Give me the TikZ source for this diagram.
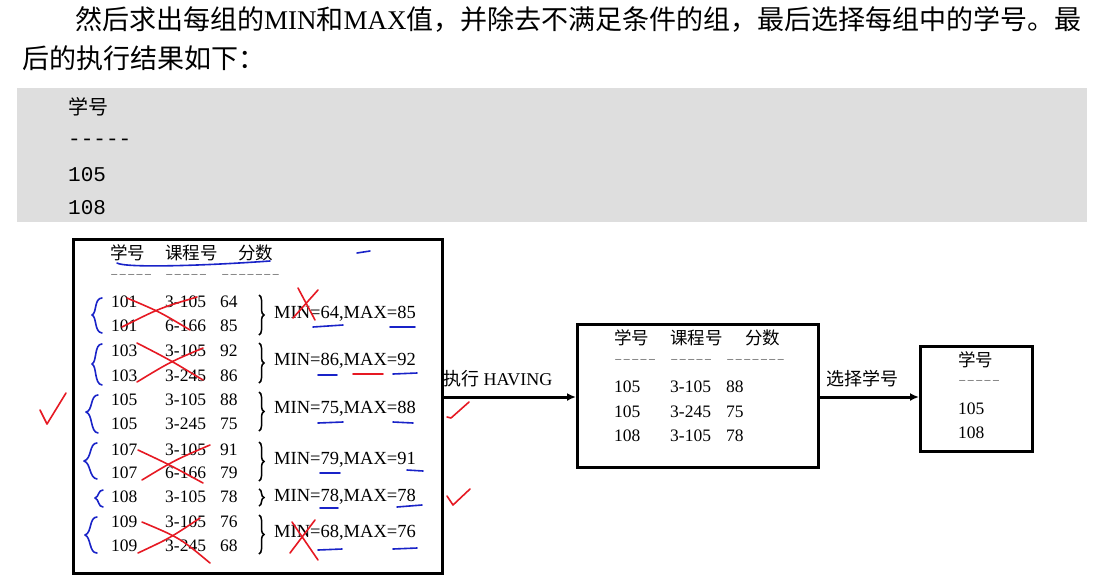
\documentclass[tikz,border=0pt]{standalone}
\usepackage{fontspec}
\setmainfont{Liberation Serif}
\newfontfamily\cjk{Noto Sans CJK SC}
\newfontfamily\monof{Liberation Mono}
\usetikzlibrary{arrows.meta,decorations.pathreplacing}
\definecolor{greybg}{RGB}{222,222,222}
\definecolor{inkblue}{RGB}{25,35,200}
\definecolor{inkred}{RGB}{230,25,35}
\tikzset{
  para/.style={anchor=west,inner sep=0pt,font=\fontsize{27}{30}\selectfont},
  code/.style={anchor=west,inner sep=0pt,font=\monof\fontsize{21}{24}\selectfont},
  cell/.style={anchor=west,inner sep=0pt,font=\fontsize{17.5}{20}\selectfont},
  hdr/.style={anchor=west,inner sep=0pt,font=\cjk\fontsize{17.5}{20}\selectfont},
  dsh/.style={anchor=west,inner sep=0pt,text=gray,font=\monof\fontsize{14}{16}\selectfont},
  mm/.style={anchor=west,inner sep=0pt,font=\fontsize{18.5}{20}\selectfont},
  panel/.style={draw,line width=2.6pt},
  flow/.style={line width=3pt,-{Latex[length=9pt,width=8pt]}},
  tbrace/.style={decorate,decoration={brace,amplitude=5pt},line width=1.5pt},
  blueink/.style={inkblue,line width=1.6pt,line cap=round,line join=round},
  redink/.style={inkred,line width=1.6pt,line cap=round,line join=round},
}
\begin{document}
\begin{tikzpicture}[x=1pt,y=-1pt]
\useasboundingbox (0,0) rectangle (1113,574);
\fill[white] (0,0) rectangle (1113,574);
% paragraph
\node[para] (p1) at (75,19) {{\cjk 然后求出每组的}MIN{\cjk 和}MAX{\cjk 值，并除去不满足条件的组，最后选择每组中的学号。最}};
\node[para] (p2) at (22,58) {{\cjk 后的执行结果如下：}};
% grey code box
\fill[greybg] (17,88) rectangle (1087,222);
\node[code,font=\cjk\fontsize{20}{24}\selectfont] (g1) at (68,107) {学号};
\node[code] (g2) at (68,142) {-----};
\node[code] (g3) at (68,175) {105};
\node[code] (g4) at (68,208) {108};

% panel 1
\node[panel,minimum width=369pt,minimum height=334pt,anchor=north west,inner sep=0pt] (b1) at (72,238) {};
\node[hdr] (h1a) at (110,253) {学号};
\node[hdr] (h1b) at (165,253) {课程号};
\node[hdr] (h1c) at (238,253) {分数};
\node[dsh] (d1a) at (110,276) {–––––};
\node[dsh] (d1b) at (165,276) {–––––};
\node[dsh] (d1c) at (221,276) {–––––––};
\foreach \y/\a/\b/\c [count=\i] in {302/101/3-105/64, 326/101/6-166/85, 351/103/3-105/92, 376/103/3-245/86, 400/105/3-105/88, 424/105/3-245/75, 450/107/3-105/91, 473/107/6-166/79, 497/108/3-105/78, 522/109/3-105/76, 546/109/3-245/68}{
  \node[cell] (r\i a) at (111,\y) {\a};
  \node[cell] (r\i b) at (165,\y) {\b};
  \node[cell] (r\i c) at (220,\y) {\c};
}
\foreach \t/\bb [count=\i] in {295/335, 343/383, 392/431, 442/481, 489/506, 515/554}{
  \draw[tbrace] (259,\t) -- (259,\bb);
}
\node[mm] (m1) at (274,314) {MIN=64,MAX=85};
\node[mm] (m2) at (274,361) {MIN=86,MAX=92};
\node[mm] (m3) at (274,409) {MIN=75,MAX=88};
\node[mm] (m4) at (274,460) {MIN=79,MAX=91};
\node[mm] (m5) at (274,497) {MIN=78,MAX=78};
\node[mm] (m6) at (274,533) {MIN=68,MAX=76};

% panel 2
\node[panel,minimum width=241pt,minimum height=143pt,anchor=north west,inner sep=0pt] (b2) at (576,323) {};
\node[hdr] (h2a) at (614,338) {学号};
\node[hdr] (h2b) at (670,338) {课程号};
\node[hdr] (h2c) at (745,338) {分数};
\node[dsh] (d2a) at (614,361) {–––––};
\node[dsh] (d2b) at (670,361) {–––––};
\node[dsh] (d2c) at (726,361) {–––––––};
\foreach \y/\a/\b/\c [count=\i] in {387/105/3-105/88, 412/105/3-245/75, 436/108/3-105/78}{
  \node[cell] (s\i a) at (614,\y) {\a};
  \node[cell] (s\i b) at (670,\y) {\b};
  \node[cell] (s\i c) at (726,\y) {\c};
}

% panel 3
\node[panel,minimum width=112pt,minimum height=105pt,anchor=north west,inner sep=0pt] (b3) at (919,345) {};
\node[hdr] (h3) at (958,360) {学号};
\node[dsh] (d3) at (958,382) {–––––};
\node[cell] (t1) at (958,409) {105};
\node[cell] (t2) at (958,433) {108};

% arrows
\draw[flow] (b1.east |- 0,397) -- (b2.west |- 0,397);
\node[anchor=west,inner sep=0pt,font=\fontsize{18}{20}\selectfont] (l1) at (443,379) {{\cjk 执行} HAVING};
\draw[flow] (b2.east |- 0,397) -- (b3.west |- 0,397);
\node[hdr,font=\cjk\fontsize{18}{20}\selectfont] (l2) at (826,379) {选择学号};

% ---- handwritten marks ----
\draw[blueink] (117,263) .. controls (125,268) and (200,266) .. (270,261);
\draw[blueink] (357,253) -- (370,251);
% left braces
\draw[blueink] (102,298) .. controls (94,298) and (97,313) .. (92,315) .. controls (97,317) and (94,332) .. (102,333);
\draw[blueink] (102,344) .. controls (94,344) and (97,362) .. (92,364) .. controls (97,366) and (94,384) .. (102,385);
\draw[blueink] (98,395) .. controls (90,395) and (93,411) .. (86,412) .. controls (93,414) and (90,432) .. (98,433);
\draw[blueink] (97,443) .. controls (89,443) and (92,459) .. (84,461) .. controls (91,463) and (89,478) .. (97,479);
\draw[blueink] (103,490) .. controls (98,490) and (99,497) .. (95,498) .. controls (99,499) and (98,507) .. (103,507);
\draw[blueink] (97,517) .. controls (89,517) and (92,533) .. (85,535) .. controls (91,537) and (89,553) .. (97,553);
% underlines
\draw[blueink] (313,327) -- (343,325);
\draw[blueink] (390,327) -- (415,327);
\draw[blueink] (318,375) -- (337,375);
\draw[redink] (353,374) -- (383,374);
\draw[blueink] (393,374) -- (417,373);
\draw[blueink] (318,423) -- (343,422);
\draw[blueink] (393,422) -- (413,423);
\draw[blueink] (320,473) -- (340,473);
\draw[blueink] (407,470) -- (423,471);
\draw[blueink] (320,508) -- (338,508);
\draw[blueink] (397,507) -- (422,505);
\draw[blueink] (318,550) -- (342,549);
\draw[blueink] (393,549) -- (417,548);
% red crosses over rows
\draw[redink] (127,298) .. controls (160,312) .. (190,330);
\draw[redink] (122,327) .. controls (160,308) .. (197,297);
\draw[redink] (137,343) .. controls (170,360) .. (203,380);
\draw[redink] (137,382) .. controls (170,362) .. (203,348);
\draw[redink] (138,450) .. controls (170,465) .. (203,483);
\draw[redink] (142,480) .. controls (175,460) .. (210,445);
\draw[redink] (142,522) .. controls (180,538) .. (210,563);
\draw[redink] (138,553) .. controls (170,538) .. (200,518);
% red crosses over MIN
\draw[redink] (298,288) -- (315,320);
\draw[redink] (293,318) -- (318,290);
\draw[redink] (292,522) -- (318,560);
\draw[redink] (290,553) -- (315,520);
% check marks
\draw[redink] (40,410) -- (47,424) -- (66,393);
\draw[redink] (447,417) -- (451,418) -- (469,402);
\draw[redink] (447,496) -- (453,505) -- (470,489);
\end{tikzpicture}
\end{document}
